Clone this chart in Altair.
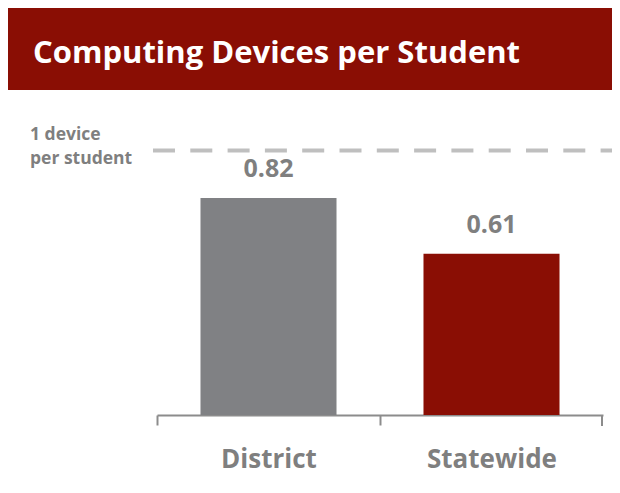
import altair as alt
import pandas as pd

categories = ["District", "Statewide"]
values = [0.82, 0.61]
value_labels = ["0.82", "0.61"]
bar_colors = ["#808184", "#8a0e04"]
title_text = "Computing Devices per Student"
ref_value = [1.0]
ref_label = ["1 device\nper student"]

df = pd.DataFrame({"cat": categories, "val": values, "lbl": value_labels, "col": bar_colors})
ref_df = pd.DataFrame({"ref": ref_value, "lbl": ref_label, "ttl": [title_text]})

FONT = "Open Sans"
GRAY = "#7f7f7f"
RED = "#8a0e04"
AXIS_GRAY = "#8c8c8c"

x_scale = alt.Scale(domain=categories, paddingInner=0.39, paddingOuter=0.195)
y_scale = alt.Scale(domain=[0, 1.5388], nice=False, zero=True)

x_axis = alt.Axis(
    title=None,
    labelAngle=0,
    labelFont=FONT,
    labelFontSize=26,
    labelFontWeight="bold",
    labelColor=GRAY,
    labelBaseline="alphabetic",
    labelPadding=42,
    tickOffset=-111.5,
    labelOffset=111.5,
    tickSize=10,
    tickColor=AXIS_GRAY,
    tickWidth=2,
    domainColor=AXIS_GRAY,
    domainWidth=2,
    grid=False,
)

base = alt.Chart(df)

bars = base.mark_bar().encode(
    x=alt.X("cat:N", scale=x_scale, axis=x_axis),
    y=alt.Y("val:Q", scale=y_scale, axis=None),
    color=alt.Color("col:N", scale=None, legend=None),
)

vlabels = base.mark_text(
    font=FONT, fontSize=25, fontWeight="bold", color=GRAY,
    baseline="alphabetic", dy=-21,
).encode(
    x=alt.X("cat:N", scale=x_scale, axis=x_axis),
    y=alt.Y("val:Q", scale=y_scale, axis=None),
    text="lbl:N",
)

ref_line = alt.Chart(ref_df).mark_rule(
    color="#bfbfbf", strokeWidth=4, strokeDash=[22, 15.3]
).encode(
    y=alt.Y("ref:Q", scale=y_scale, axis=None),
    x=alt.value(-4),
    x2=alt.value(456),
)

end_tick = alt.Chart(ref_df).mark_rule(color=AXIS_GRAY, strokeWidth=2).encode(
    x=alt.value(445),
    y=alt.value(407),
    y2=alt.value(418),
)

ref_text = alt.Chart(ref_df).mark_text(
    font=FONT, fontSize=17.5, fontWeight="bold", color=GRAY,
    align="left", baseline="alphabetic", lineHeight=24, lineBreak="\n",
).encode(
    x=alt.value(-127),
    y=alt.value(132),
    text="lbl:N",
)

header = alt.Chart(ref_df).mark_rect(color=RED).encode(
    x=alt.value(-149), x2=alt.value(455),
    y=alt.value(0), y2=alt.value(82),
)

title_mark = alt.Chart(ref_df).mark_text(
    font=FONT, fontSize=31, fontWeight="bold", color="white",
    align="left", baseline="alphabetic",
).encode(
    x=alt.value(-124), y=alt.value(55), text="ttl:N",
)

chart = alt.layer(header, title_mark, ref_line, ref_text, bars, vlabels, end_tick).properties(
    width=446,
    height=407,
    autosize="none",
    padding={"left": 149, "top": 0, "right": 9, "bottom": 70},
    background="white",
).configure_view(stroke=None)

chart.save("out.html", embed_options={"renderer": "svg", "actions": False})
